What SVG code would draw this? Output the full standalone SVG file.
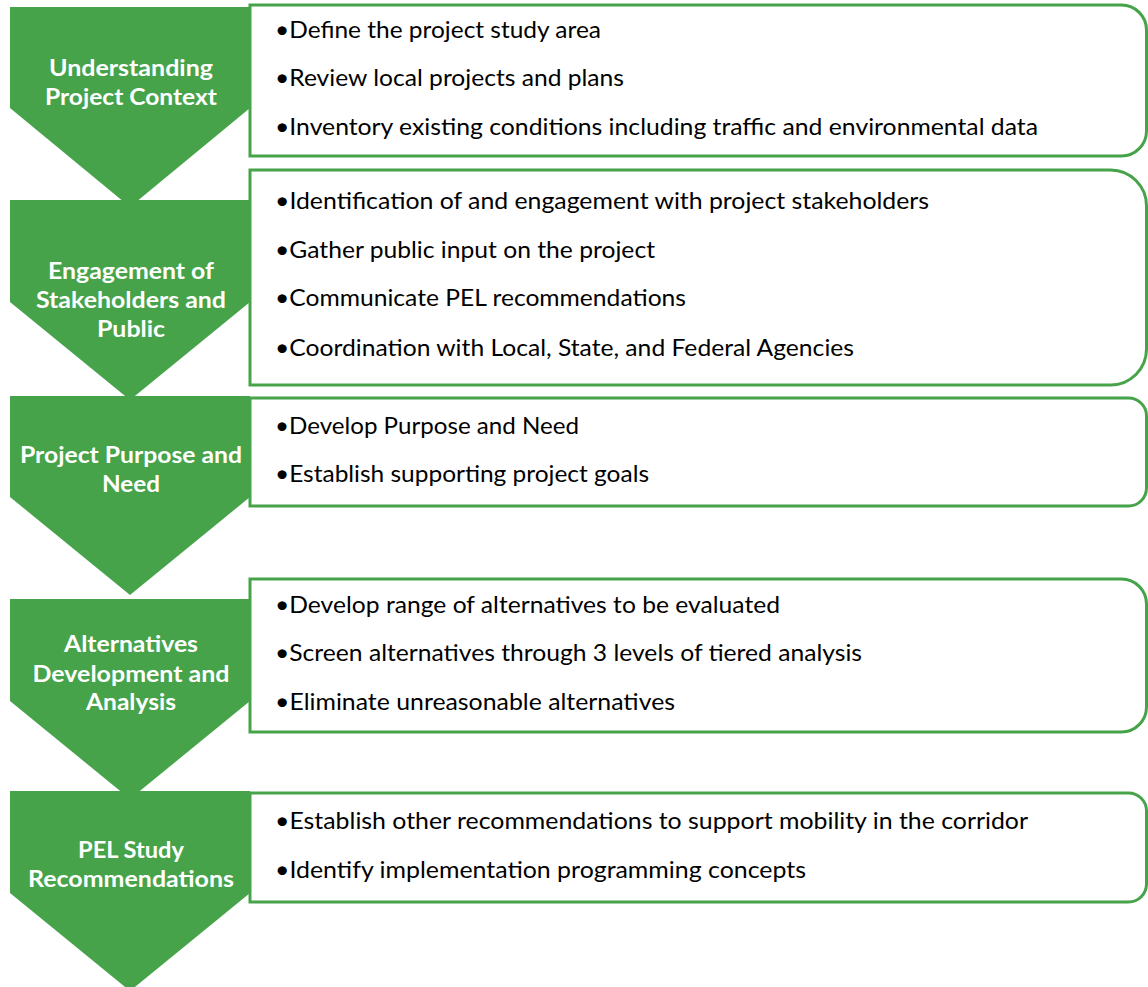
<svg xmlns="http://www.w3.org/2000/svg" width="1148" height="987" viewBox="0 0 1148 987">
<style>
.chev{fill:#46A34A;}
.box{fill:#FFFFFF;stroke:#46A34A;stroke-width:3;}
.lbl{font-family:Lato,"Open Sans","Liberation Sans",sans-serif;font-weight:bold;font-size:23px;fill:#FFFFFF;text-anchor:middle;}
.txt{font-family:Lato,"Open Sans","Liberation Sans",sans-serif;font-size:23.5px;fill:#000000;}
</style>
<rect x="0" y="0" width="1148" height="987" fill="#FFFFFF"/>
<g id="connectors"/>
<g id="stage1">
<polygon class="chev" points="10,7 250,7 250,108 130,207 10,108"/>
<path class="box" d="M250,5 H1121.5 A25,25 0 0 1 1146.5,30 V131 A25,25 0 0 1 1121.5,156 H250 Z"/>
<text class="lbl" x="131" y="76" textLength="164" lengthAdjust="spacingAndGlyphs">Understanding</text>
<text class="lbl" x="131" y="105" textLength="172" lengthAdjust="spacingAndGlyphs">Project Context</text>
<text class="txt" x="275" y="38" textLength="326" lengthAdjust="spacingAndGlyphs">•Define the project study area</text>
<text class="txt" x="275" y="86" textLength="349" lengthAdjust="spacingAndGlyphs">•Review local projects and plans</text>
<text class="txt" x="275" y="135" textLength="763" lengthAdjust="spacingAndGlyphs">•Inventory existing conditions including traffic and environmental data</text>
</g>
<g id="stage2">
<polygon class="chev" points="10,200 250,200 250,302 130,400 10,302"/>
<path class="box" d="M250,170 H1110.5 A36,36 0 0 1 1146.5,206 V349 A36,36 0 0 1 1110.5,385 H250 Z"/>
<text class="lbl" x="131" y="279" textLength="166" lengthAdjust="spacingAndGlyphs">Engagement of</text>
<text class="lbl" x="131" y="308" textLength="190" lengthAdjust="spacingAndGlyphs">Stakeholders and</text>
<text class="lbl" x="131" y="337" textLength="68" lengthAdjust="spacingAndGlyphs">Public</text>
<text class="txt" x="275" y="209" textLength="654" lengthAdjust="spacingAndGlyphs">•Identification of and engagement with project stakeholders</text>
<text class="txt" x="275" y="258" textLength="380" lengthAdjust="spacingAndGlyphs">•Gather public input on the project</text>
<text class="txt" x="275" y="306" textLength="411" lengthAdjust="spacingAndGlyphs">•Communicate PEL recommendations</text>
<text class="txt" x="275" y="356" textLength="579" lengthAdjust="spacingAndGlyphs">•Coordination with Local, State, and Federal Agencies</text>
</g>
<g id="stage3">
<polygon class="chev" points="10,396 250,396 250,497 130,595 10,497"/>
<path class="box" d="M250,398 H1128.5 A18,18 0 0 1 1146.5,416 V488 A18,18 0 0 1 1128.5,506 H250 Z"/>
<text class="lbl" x="131" y="463" textLength="222" lengthAdjust="spacingAndGlyphs">Project Purpose and</text>
<text class="lbl" x="131" y="492" textLength="58" lengthAdjust="spacingAndGlyphs">Need</text>
<text class="txt" x="275" y="434" textLength="304" lengthAdjust="spacingAndGlyphs">•Develop Purpose and Need</text>
<text class="txt" x="275" y="482" textLength="374" lengthAdjust="spacingAndGlyphs">•Establish supporting project goals</text>
</g>
<g id="stage4">
<polygon class="chev" points="10,599 250,599 250,701 130,799 10,701"/>
<path class="box" d="M250,579 H1121.5 A25,25 0 0 1 1146.5,604 V707 A25,25 0 0 1 1121.5,732 H250 Z"/>
<text class="lbl" x="131" y="652" textLength="134" lengthAdjust="spacingAndGlyphs">Alternatives</text>
<text class="lbl" x="131" y="682" textLength="197" lengthAdjust="spacingAndGlyphs">Development and</text>
<text class="lbl" x="131" y="710" textLength="90" lengthAdjust="spacingAndGlyphs">Analysis</text>
<text class="txt" x="275" y="613" textLength="505" lengthAdjust="spacingAndGlyphs">•Develop range of alternatives to be evaluated</text>
<text class="txt" x="275" y="661" textLength="587" lengthAdjust="spacingAndGlyphs">•Screen alternatives through 3 levels of tiered analysis</text>
<text class="txt" x="275" y="710" textLength="400" lengthAdjust="spacingAndGlyphs">•Eliminate unreasonable alternatives</text>
</g>
<g id="stage5">
<polygon class="chev" points="10,791 250,791 250,893 130,991 10,893"/>
<path class="box" d="M250,793 H1128.5 A18,18 0 0 1 1146.5,811 V884 A18,18 0 0 1 1128.5,902 H250 Z"/>
<text class="lbl" x="131" y="858" textLength="106" lengthAdjust="spacingAndGlyphs">PEL Study</text>
<text class="lbl" x="131" y="887" textLength="206" lengthAdjust="spacingAndGlyphs">Recommendations</text>
<text class="txt" x="275" y="829" textLength="753" lengthAdjust="spacingAndGlyphs">•Establish other recommendations to support mobility in the corridor</text>
<text class="txt" x="275" y="878" textLength="531" lengthAdjust="spacingAndGlyphs">•Identify implementation programming concepts</text>
</g>
</svg>
